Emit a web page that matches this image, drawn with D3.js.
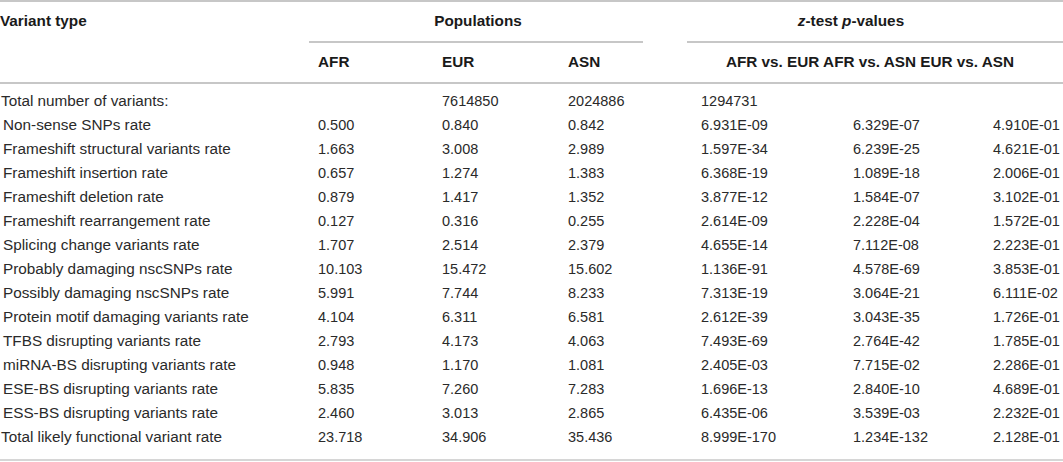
<!DOCTYPE html>
<html>
<head>
<meta charset="utf-8">
<script src="https://cdn.jsdelivr.net/npm/d3@7/dist/d3.min.js"></script>
<style>
  body { margin: 0; background: #fff; }
  svg { display: block; font-family: "Liberation Sans", Arial, sans-serif; }
  .label { font-size: 15.3px; fill: #2a2a2a; }
  .num { font-size: 14.5px; fill: #2a2a2a; }
  .head { font-size: 15.3px; font-weight: bold; fill: #1a1a1a; }
</style>
</head>
<body>
<div class="canvas"></div>
<script>
const variantTypes = [
  "Total number of variants:",
  "Non-sense SNPs rate",
  "Frameshift structural variants rate",
  "Frameshift insertion rate",
  "Frameshift deletion rate",
  "Frameshift rearrangement rate",
  "Splicing change variants rate",
  "Probably damaging nscSNPs rate",
  "Possibly damaging nscSNPs rate",
  "Protein motif damaging variants rate",
  "TFBS disrupting variants rate",
  "miRNA-BS disrupting variants rate",
  "ESE-BS disrupting variants rate",
  "ESS-BS disrupting variants rate",
  "Total likely functional variant rate"
];

const populations = ["AFR", "EUR", "ASN"];
const comparisons = ["AFR vs. EUR", "AFR vs. ASN", "EUR vs. ASN"];

// first row is printed shifted one column right in the source table
const afr = ["", "0.500", "1.663", "0.657", "0.879", "0.127", "1.707", "10.103", "5.991", "4.104", "2.793", "0.948", "5.835", "2.460", "23.718"];
const eur = ["7614850", "0.840", "3.008", "1.274", "1.417", "0.316", "2.514", "15.472", "7.744", "6.311", "4.173", "1.170", "7.260", "3.013", "34.906"];
const asn = ["2024886", "0.842", "2.989", "1.383", "1.352", "0.255", "2.379", "15.602", "8.233", "6.581", "4.063", "1.081", "7.283", "2.865", "35.436"];
const pAfrEur = ["1294731", "6.931E-09", "1.597E-34", "6.368E-19", "3.877E-12", "2.614E-09", "4.655E-14", "1.136E-91", "7.313E-19", "2.612E-39", "7.493E-69", "2.405E-03", "1.696E-13", "6.435E-06", "8.999E-170"];
const pAfrAsn = ["", "6.329E-07", "6.239E-25", "1.089E-18", "1.584E-07", "2.228E-04", "7.112E-08", "4.578E-69", "3.064E-21", "3.043E-35", "2.764E-42", "7.715E-02", "2.840E-10", "3.539E-03", "1.234E-132"];
const pEurAsn = ["", "4.910E-01", "4.621E-01", "2.006E-01", "3.102E-01", "1.572E-01", "2.223E-01", "3.853E-01", "6.111E-02", "1.726E-01", "1.785E-01", "2.286E-01", "4.689E-01", "2.232E-01", "2.128E-01"];

const columns = [afr, eur, asn, pAfrEur, pAfrAsn, pEurAsn];

const width = 1063, height = 462;
const svg = d3.select(".canvas").append("svg")
  .attr("width", width)
  .attr("height", height);

const x = d3.scaleOrdinal()
  .domain(["label", "AFR", "EUR", "ASN", "p1", "p2", "p3"])
  .range([3, 318, 442, 568, 701, 853, 993]);

const y = d3.scalePoint()
  .domain(d3.range(variantTypes.length))
  .range([101, 437]);

const rule = (x1, x2, yy, color) => svg.append("line")
  .attr("x1", x1).attr("x2", x2)
  .attr("y1", yy).attr("y2", yy)
  .attr("stroke", color || "#b4b4b4")
  .attr("stroke-width", 1.6);

rule(0, width, 1);
rule(309, 643, 42);
rule(687, width, 42);
rule(0, width, 83);
rule(0, width, 460, "#c8c8c8");

// header row one
svg.append("text").attr("class", "head")
  .attr("x", 0).attr("y", 21).attr("dy", "0.35em")
  .text("Variant type");

svg.append("text").attr("class", "head")
  .attr("x", 478).attr("y", 21).attr("dy", "0.35em")
  .attr("text-anchor", "middle")
  .text("Populations");

const zt = svg.append("text").attr("class", "head")
  .attr("x", 851).attr("y", 21).attr("dy", "0.35em")
  .attr("text-anchor", "middle");
zt.append("tspan").attr("font-style", "italic").text("z");
zt.append("tspan").text("-test ");
zt.append("tspan").attr("font-style", "italic").text("p");
zt.append("tspan").text("-values");

// header row two
svg.selectAll(".pop")
  .data(populations)
  .join("text")
  .attr("class", "head pop")
  .attr("x", (d) => x(d))
  .attr("y", 62).attr("dy", "0.35em")
  .text((d) => d);

svg.append("text").attr("class", "head")
  .attr("x", 870).attr("y", 62).attr("dy", "0.35em")
  .attr("text-anchor", "middle")
  .text(comparisons.join(" "));

// body
svg.selectAll(".label")
  .data(variantTypes)
  .join("text")
  .attr("class", "label")
  .attr("x", (d) => d.startsWith("Total") ? x("label") - 2 : x("label"))
  .attr("y", (d, i) => y(i)).attr("dy", "0.35em")
  .text((d) => d);

const colKeys = ["AFR", "EUR", "ASN", "p1", "p2", "p3"];
columns.forEach((col, c) => {
  svg.selectAll(".c" + c)
    .data(col)
    .join("text")
    .attr("class", "num c" + c)
    .attr("x", x(colKeys[c]))
    .attr("y", (d, i) => y(i)).attr("dy", "0.35em")
    .text((d) => d);
});
</script>
</body>
</html>
